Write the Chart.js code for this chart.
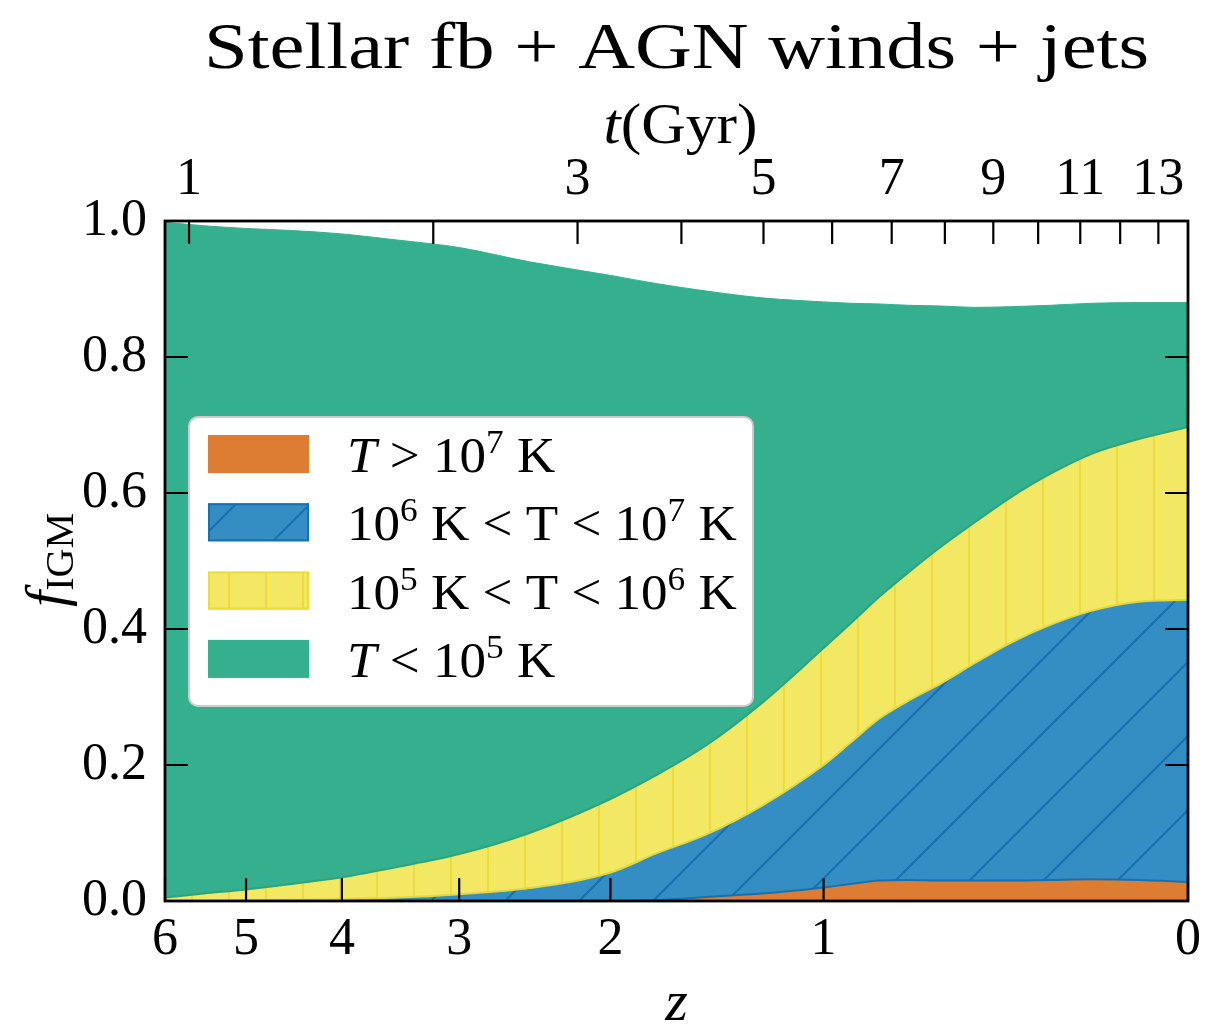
<!DOCTYPE html>
<html>
<head>
<meta charset="utf-8">
<title>f_IGM vs z</title>
<script src="https://cdn.jsdelivr.net/npm/chart.js@4.4.1/dist/chart.umd.min.js"></script>
<style>
html,body{margin:0;padding:0;background:#ffffff;overflow:hidden;}
#wrap{position:relative;width:1209px;height:1028px;}
</style>
</head>
<body>
<div id="wrap"><canvas id="chart"></canvas></div>
<script>
// ---------------- data ----------------
const redshift = [6, 5.5, 5, 4.5, 4, 3.5, 3, 2.5, 2, 1.75, 1.5, 1.25, 1, 0.9, 0.8, 0.7, 0.6, 0.5, 0.4, 0.3, 0.2, 0.1, 0];
// T > 1e7 K
const fHot  = [0, 0, 0, 0, 0, 0, 0, 0, 0, 0.001, 0.006, 0.011, 0.020, 0.025, 0.030, 0.031, 0.030, 0.030, 0.030, 0.031, 0.032, 0.031, 0.028];
// 1e6 K < T < 1e7 K
const fWhim = [0, 0, 0.001, 0.002, 0.003, 0.005, 0.010, 0.019, 0.042, 0.069, 0.092, 0.129, 0.180, 0.208, 0.238, 0.264, 0.290, 0.320, 0.350, 0.375, 0.395, 0.409, 0.415];
// 1e5 K < T < 1e6 K
const fWarm = [0.005, 0.011, 0.016, 0.023, 0.032, 0.045, 0.059, 0.081, 0.108, 0.115, 0.131, 0.151, 0.172, 0.175, 0.179, 0.189, 0.201, 0.207, 0.214, 0.222, 0.231, 0.239, 0.254];
// T < 1e5 K
const fCool = [0.993, 0.982, 0.972, 0.961, 0.946, 0.922, 0.892, 0.840, 0.770, 0.723, 0.668, 0.596, 0.509, 0.471, 0.431, 0.392, 0.354, 0.316, 0.280, 0.248, 0.221, 0.201, 0.183];

const seriesLabels = [
  '<i>T</i> > 10<sup>7</sup> K',
  '10<sup>6</sup> K < T < 10<sup>7</sup> K',
  '10<sup>5</sup> K < T < 10<sup>6</sup> K',
  '<i>T</i> < 10<sup>5</sup> K'
];
const zTicks = [6, 5, 4, 3, 2, 1, 0];
const ageTicksGyr = [1, 2, 3, 4, 5, 6, 7, 8, 9, 10, 11, 12, 13];
const ageTickLabels = ['1', '', '3', '', '5', '', '7', '', '9', '', '11', '', '13'];
const fTicks = [0, 0.2, 0.4, 0.6, 0.8, 1.0];
const titleText = 'Stellar fb + AGN winds + jets';
const xTitleText = 'z';
const topTitleText = '<i>t</i>(Gyr)';
const yTitleText = '<i>f</i><sub>IGM</sub>';

// ---------------- style ----------------
const FAMILY = "'Liberation Serif', 'Times New Roman', serif";
const COL = {
  hot: '#dd7d33', whim: '#358ec3', whimHatch: '#1471b2',
  warm: '#f2e864', warmHatch: '#ebdc3c', warmEdge: '#e6d83a',
  cool: '#34b08e', coolEdge: '#2ca57e'
};

// flat LCDM age -> redshift (for the top axis)
const H0 = 67.74, Om = 0.3089;
function zAtAge(tGyr) {
  const OL = 1 - Om;
  const tH = 977.8 / H0;
  const k = 2 / (3 * Math.sqrt(OL)) * tH;
  return Math.pow(Math.sqrt(OL / Om) / Math.sinh(tGyr / k), 2 / 3) - 1;
}

// redshift scale: linear in log10(1+z)
class RedshiftScale extends Chart.LinearScale {
  _u(v) { return Math.log10(1 + v); }
  getPixelForValue(v) {
    if (v === null || v === undefined || isNaN(v)) return NaN;
    const a = this._u(this.min), b = this._u(this.max);
    return this.getPixelForDecimal((this._u(v) - a) / (b - a));
  }
  getValueForPixel(p) {
    const a = this._u(this.min), b = this._u(this.max);
    return Math.pow(10, a + this.getDecimalForPixel(p) * (b - a)) - 1;
  }
}
RedshiftScale.id = 'redshift';
RedshiftScale.defaults = {};
Chart.register(RedshiftScale);

// hatch patterns
function makePattern(w, h, draw) {
  const c = document.createElement('canvas');
  c.width = w; c.height = h;
  const g = c.getContext('2d');
  draw(g, w, h);
  return g.createPattern(c, 'repeat');
}
const whimPattern = makePattern(74, 74, (g, S) => {
  g.fillStyle = COL.whim; g.fillRect(0, 0, S, S);
  g.strokeStyle = COL.whimHatch; g.lineWidth = 2;
  g.beginPath();
  [0, S, 2 * S].forEach(c => { g.moveTo(c + 2, -2); g.lineTo(c - S - 2, S + 2); });
  g.stroke();
});
const warmPattern = makePattern(37, 8, (g, w, h) => {
  g.fillStyle = COL.warm; g.fillRect(0, 0, w, h);
  g.fillStyle = COL.warmHatch; g.fillRect(6, 0, 2, h);
});

// rich text helpers
function parseRich(s) {
  const out = []; const re = /<(i|sup|sub)>(.*?)<\/\1>/g; let last = 0, m;
  while ((m = re.exec(s))) {
    if (m.index > last) out.push({ t: s.slice(last, m.index) });
    out.push({ t: m[2], it: m[1] === 'i', sup: m[1] === 'sup', sub: m[1] === 'sub' });
    last = re.lastIndex;
  }
  if (last < s.length) out.push({ t: s.slice(last) });
  return out;
}
function richWidth(ctx, parts, size, small) {
  let w = 0;
  parts.forEach(p => { ctx.font = (p.it ? 'italic ' : '') + ((p.sup || p.sub) ? small : size) + 'px ' + FAMILY; w += ctx.measureText(p.t).width; });
  return w;
}
function drawRich(ctx, parts, x, y, size, small, raise, lower) {
  let cx = x;
  parts.forEach(p => {
    ctx.font = (p.it ? 'italic ' : '') + ((p.sup || p.sub) ? small : size) + 'px ' + FAMILY;
    const yy = p.sup ? y - raise : (p.sub ? y + lower : y);
    ctx.fillText(p.t, cx, yy);
    cx += ctx.measureText(p.t).width;
  });
}

const decor = {
  id: 'decor',
  afterDatasetsDraw(chart) {
    const { ctx, chartArea: a, scales } = chart;
    ctx.save();
    ctx.strokeStyle = '#000';
    ctx.lineWidth = 2.2;
    const L = 23;
    ctx.beginPath();
    zTicks.forEach(z => { const px = scales.x.getPixelForValue(z); ctx.moveTo(px, a.bottom); ctx.lineTo(px, a.bottom - L); });
    ageTicksGyr.forEach(t => { const px = scales.xTop.getPixelForValue(zAtAge(t)); ctx.moveTo(px, a.top); ctx.lineTo(px, a.top + L); });
    fTicks.forEach(v => {
      const py = scales.y.getPixelForValue(v);
      ctx.moveTo(a.left, py); ctx.lineTo(a.left + L, py);
      ctx.moveTo(a.right, py); ctx.lineTo(a.right - L, py);
    });
    ctx.stroke();
    ctx.lineWidth = 2.8;
    ctx.strokeRect(a.left, a.top, a.right - a.left, a.bottom - a.top);
    ctx.restore();
  },
  afterDraw(chart) {
    const { ctx, chartArea: a } = chart;
    ctx.save();
    ctx.fillStyle = '#000';
    ctx.textBaseline = 'alphabetic';
    ctx.textAlign = 'left';
    const cx = (a.left + a.right) / 2;
    // main title (widened to match the wide LaTeX face)
    ctx.save();
    ctx.font = '66px ' + FAMILY;
    const w0 = ctx.measureText(titleText).width;
    ctx.translate(cx, 68);
    ctx.scale(945 / w0, 1);
    ctx.textAlign = 'center';
    ctx.fillText(titleText, 0, 0);
    ctx.restore();
    // top axis title
    const tp = parseRich(topTitleText);
    const tw = richWidth(ctx, tp, 56, 38);
    ctx.save();
    ctx.translate(cx + 4, a.top - 78);
    ctx.scale(1.1, 1);
    drawRich(ctx, tp, -tw / 2, 0, 56, 38, 0, 0);
    ctx.restore();
    // y axis title (rotated)
    const yp = parseRich(yTitleText);
    const yw = richWidth(ctx, yp, 58, 40);
    ctx.save();
    ctx.translate(a.left - 100, (a.top + a.bottom) / 2 - 1);
    ctx.rotate(-Math.PI / 2);
    drawRich(ctx, yp, -yw / 2, 0, 58, 40, 0, 8);
    ctx.restore();

    // legend
    const bx = a.left + 24, by = a.top + 196, bw = 564, bh = 289, r = 9;
    ctx.beginPath();
    ctx.moveTo(bx + r, by); ctx.lineTo(bx + bw - r, by); ctx.arcTo(bx + bw, by, bx + bw, by + r, r);
    ctx.lineTo(bx + bw, by + bh - r); ctx.arcTo(bx + bw, by + bh, bx + bw - r, by + bh, r);
    ctx.lineTo(bx + r, by + bh); ctx.arcTo(bx, by + bh, bx, by + bh - r, r);
    ctx.lineTo(bx, by + r); ctx.arcTo(bx, by, bx + r, by, r);
    ctx.closePath();
    ctx.fillStyle = '#ffffff'; ctx.fill();
    ctx.strokeStyle = '#cccccc'; ctx.lineWidth = 2; ctx.stroke();
    const ds = chart.data.datasets;
    for (let i = 0; i < ds.length; i++) {
      const sx = bx + 19, sy = by + 18 + i * 68.3, sw = 101, sh = 38;
      ctx.fillStyle = ds[i].backgroundColor;
      ctx.fillRect(sx, sy, sw, sh);
      if (ds[i].legendEdge) {
        ctx.strokeStyle = ds[i].legendEdge; ctx.lineWidth = 2;
        ctx.strokeRect(sx + 1, sy + 1, sw - 2, sh - 2);
      }
      ctx.fillStyle = '#000';
      ctx.save();
      ctx.translate(bx + 158, by + 55 + i * 68.3);
      ctx.scale(1.04, 1);
      drawRich(ctx, parseRich(ds[i].label), 0, 0, 51, 34, 19, 0);
      ctx.restore();
    }
    ctx.restore();
  }
};

const pts = arr => redshift.map((z, i) => ({ x: z, y: arr[i] }));

const common = { pointRadius: 0, pointHoverRadius: 0, cubicInterpolationMode: 'monotone', tension: 0.4 };

new Chart(document.getElementById('chart'), {
  type: 'line',
  data: {
    datasets: [
      Object.assign({ label: seriesLabels[0], data: pts(fHot), backgroundColor: COL.hot, borderColor: COL.whimHatch, borderWidth: 2, fill: 'origin' }, common),
      Object.assign({ label: seriesLabels[1], data: pts(fWhim), backgroundColor: whimPattern, borderColor: COL.warmEdge, borderWidth: 2, fill: '-1', legendEdge: COL.whimHatch }, common),
      Object.assign({ label: seriesLabels[2], data: pts(fWarm), backgroundColor: warmPattern, borderColor: COL.coolEdge, borderWidth: 2, fill: '-1', legendEdge: COL.warmHatch }, common),
      Object.assign({ label: seriesLabels[3], data: pts(fCool), backgroundColor: COL.cool, borderColor: COL.cool, borderWidth: 1, fill: '-1' }, common)
    ]
  },
  options: {
    responsive: true,
    maintainAspectRatio: false,
    animation: false,
    events: [],
    layout: { padding: { left: 0, right: 19, top: 0, bottom: 0 } },
    plugins: {
      legend: { display: false },
      tooltip: { enabled: false },
      title: { display: false }
    },
    scales: {
      x: {
        type: 'redshift', position: 'bottom', min: 0, max: 6, reverse: true,
        afterBuildTicks: s => { s.ticks = zTicks.map(v => ({ value: v })); },
        afterFit: s => { s.height = 127; },
        grid: { display: false, drawTicks: false },
        border: { display: false },
        ticks: { autoSkip: false, maxRotation: 0, padding: 8, color: '#000', font: { family: FAMILY, size: 52 }, callback: v => String(v) },
        title: { display: true, text: xTitleText, color: '#000', font: { family: FAMILY, size: 58, style: 'italic', lineHeight: 0.79 }, padding: { top: 0, bottom: 0 } }
      },
      xTop: {
        type: 'redshift', position: 'top', min: 0, max: 6, reverse: true,
        afterBuildTicks: s => { s.ticks = ageTicksGyr.map(t => ({ value: zAtAge(t) })); },
        afterFit: s => { s.height = 221; },
        grid: { display: false, drawTicks: false },
        border: { display: false },
        ticks: { autoSkip: false, maxRotation: 0, padding: 9, color: '#000', font: { family: FAMILY, size: 52 }, callback: (v, i) => ageTickLabels[i] }
      },
      y: {
        stacked: true, min: 0, max: 1, position: 'left',
        afterBuildTicks: s => { s.ticks = fTicks.map(v => ({ value: v })); },
        afterFit: s => { s.width = 165; },
        grid: { display: false, drawTicks: false },
        border: { display: false },
        ticks: { autoSkip: false, padding: 18, color: '#000', font: { family: FAMILY, size: 52 }, callback: v => v.toFixed(1) }
      }
    }
  },
  plugins: [decor]
});
</script>
</body>
</html>
